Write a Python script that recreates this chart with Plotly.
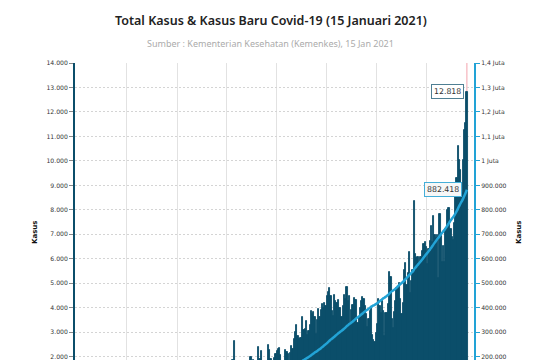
import numpy as np
import pandas as pd
import plotly.graph_objects as go

# Kasus baru harian (Indonesia), 2 Maret 2020 - 15 Januari 2021
kasus_mar = [2, 0, 0, 0, 2, 0, 2, 13, 8, 7, 0, 35, 27, 21, 17, 38, 55, 82, 60, 81,
             64, 65, 106, 105, 103, 153, 109, 130, 129, 114]
kasus_apr = [149, 113, 196, 106, 181, 218, 247, 218, 337, 219, 330, 399, 316, 282, 297,
             380, 407, 325, 327, 185, 375, 283, 357, 436, 396, 275, 214, 415, 260, 347]
kasus_mei = [433, 292, 349, 395, 484, 367, 338, 336, 533, 387, 233, 484, 689, 568, 490, 529,
             489, 496, 486, 693, 973, 634, 949, 526, 479, 415, 686, 687, 678, 700, 557]
kasus_jun = [609, 467, 684, 585, 703, 993, 672, 847, 1043, 1241, 979, 1111, 1014, 857, 1017,
             1106, 1031, 1331, 1041, 1226, 862, 954, 1051, 1113, 1178, 1239, 1385, 1198, 1082, 1293]
kasus_jul = [1385, 1624, 1301, 1447, 1607, 1209, 1268, 1853, 2657, 1611, 1681, 1282, 1591, 1282,
             1522, 1574, 1462, 1752, 1639, 1693, 1655, 1990, 1990, 1761, 1868, 1492, 1525, 1748,
             2381, 1904, 2237]
kasus_agu = [1560, 1519, 1679, 1815, 1815, 2473, 2277, 1893, 1687, 1693, 1942, 2098, 2245, 2307,
             2345, 2081, 1821, 1673, 1700, 2266, 2197, 2090, 1711, 2149, 2447, 2306, 2719, 3003,
             3308, 2858, 2743]
kasus_sep = [2775, 2775, 3622, 3100, 3128, 3444, 2880, 3046, 3307, 3861, 3737, 3806, 3636, 2911,
             3507, 3963, 3635, 3891, 4168, 3989, 4176, 4071, 4465, 4634, 4823, 4494, 3874, 3672,
             4538, 4284]
kasus_okt = [4174, 4317, 4007, 3992, 3622, 4056, 4538, 4369, 4850, 4294, 4497, 3267, 3906, 4127,
             4411, 4301, 4301, 3373, 3602, 4000, 4267, 4432, 4369, 4070, 3761, 3222, 3520, 3853,
             3989, 2897, 2696]
kasus_nov = [2618, 2973, 3356, 4356, 4065, 3778, 4262, 3880, 2853, 3779, 3770, 4173, 5444, 5272,
             3535, 3162, 3807, 4265, 4798, 4792, 4998, 4360, 3726, 4192, 5534, 5828, 4917, 5418,
             6267, 4617]
kasus_des = [5092, 5533, 8369, 6200, 6027, 6089, 5754, 6058, 6058, 6333, 6610, 6688, 6489, 5789,
             6420, 6725, 7354, 6689, 7751, 6982, 6848, 6954, 5224, 7814, 6950, 5854, 6528, 5854,
             7203, 8002, 8074]
kasus_jan = [8072, 7203, 6877, 6753, 7445, 8854, 9321, 10617, 10046, 9640, 8692, 10047, 11278,
             11557, 12818]

kasus_baru = np.array(kasus_mar + kasus_apr + kasus_mei + kasus_jun + kasus_jul + kasus_agu +
                      kasus_sep + kasus_okt + kasus_nov + kasus_des + kasus_jan)
tanggal = pd.date_range("2020-03-02", periods=len(kasus_baru), freq="D")
total_kasus = np.cumsum(kasus_baru)

kanan_vals = [200000, 300000, 400000, 500000, 600000, 700000, 800000, 900000,
              1000000, 1100000, 1200000, 1300000, 1400000]
kanan_text = ["200.000", "300.000", "400.000", "500.000", "600.000", "700.000", "800.000",
              "900.000", "1 Juta", "1,1 Juta", "1,2 Juta", "1,3 Juta", "1,4 Juta"]

DARK = "#0b4e6a"
LIGHT = "#22a3d6"
TICKFONT = dict(family="DejaVu Sans, Verdana, sans-serif", size=6.1, color="#333333")

fig = go.Figure()
fig.add_trace(go.Bar(x=tanggal, y=kasus_baru, name="Kasus Baru", marker_color=DARK,
                     marker_line=dict(color=DARK, width=0.9), yaxis="y"))
fig.add_trace(go.Scatter(x=tanggal, y=total_kasus, name="Total Kasus", mode="lines",
                         line=dict(color=LIGHT, width=2.5, shape="spline"), yaxis="y2"))

base = pd.Timestamp("2020-03-02")
grid_days = [41.40, 82.24, 123.07, 163.90, 204.74, 245.57, 286.40]
grid_vals = [base + pd.Timedelta(days=d) for d in grid_days]

fig.update_layout(
    width=537, height=360, autosize=False,
    margin=dict(l=75, r=63, t=63, b=0, pad=0),
    paper_bgcolor="white", plot_bgcolor="white",
    separators=",.", showlegend=False, bargap=0,
    xaxis=dict(type="date",
               range=[base - pd.Timedelta(days=1.06), base + pd.Timedelta(days=324.8)],
               tickvals=grid_vals, showticklabels=False, ticks="",
               showgrid=True, gridcolor="#e2e2e2", gridwidth=1,
               showline=False, zeroline=False),
    yaxis=dict(range=[1865, 14000], tickvals=list(range(2000, 14001, 1000)),
               tickformat=",d", tickfont=TICKFONT,
               ticks="outside", ticklen=4, tickcolor="#888888", tickwidth=1,
               showgrid=True, gridcolor="#d4d4d4", griddash="2px,2px", gridwidth=1,
               showline=True, linecolor=DARK, linewidth=2, zeroline=False),
    yaxis2=dict(range=[186500, 1400000], overlaying="y", side="right",
                tickvals=kanan_vals, ticktext=kanan_text, tickfont=TICKFONT,
                ticks="outside", ticklen=4, tickcolor=LIGHT, tickwidth=1,
                showgrid=False, showline=True, linecolor=LIGHT, linewidth=2,
                zeroline=False),
)

fig.add_shape(type="line", xref="x", yref="y", x0=tanggal[-1], x1=tanggal[-1],
              y0=kasus_baru[-1], y1=14000, line=dict(color="#f3a3ad", width=1), layer="below")

fig.add_annotation(x=tanggal[-1], y=kasus_baru[-1], xref="x", yref="y",
                   text=f"{kasus_baru[-1]:,}".replace(",", "."), showarrow=False,
                   xanchor="right", yanchor="middle", xshift=-3,
                   font=dict(family="DejaVu Sans, sans-serif", size=7.8, color="#333333"),
                   bgcolor="white", bordercolor="#4f7f93", borderwidth=1, borderpad=2)
fig.add_annotation(x=tanggal[-1], y=total_kasus[-1], xref="x", yref="y2",
                   text=f"{total_kasus[-1]:,}".replace(",", "."), showarrow=False,
                   xanchor="right", yanchor="middle", xshift=-5,
                   font=dict(family="DejaVu Sans, sans-serif", size=7.8, color="#333333"),
                   bgcolor="#f7f7f7", bordercolor="#45aed8", borderwidth=1, borderpad=2)

fig.add_annotation(text="Total Kasus & Kasus Baru Covid-19 (15 Januari 2021)",
                   xref="paper", yref="paper", x=0.49, y=(360 - 21) / 297,
                   xanchor="center", yanchor="middle", showarrow=False,
                   font=dict(family="Noto Sans, sans-serif", size=12.5, color="#222222",
                             weight=600))
fig.add_annotation(text="Sumber : Kementerian Kesehatan (Kemenkes), 15 Jan 2021",
                   xref="paper", yref="paper", x=0.49, y=(360 - 44) / 297,
                   xanchor="center", yanchor="middle", showarrow=False,
                   font=dict(family="Noto Sans, sans-serif", size=9, color="#ababab"))
for xp in [(35 - 75) / 399, (519 - 75) / 399]:
    fig.add_annotation(text="<b>Kasus</b>", xref="paper", yref="paper", x=xp,
                       y=(360 - 233) / 297, textangle=-90, showarrow=False,
                       xanchor="center", yanchor="middle",
                       font=dict(family="DejaVu Sans, sans-serif", size=7, color="#111111"))

fig.write_html("out.html", config={"displayModeBar": False},
               post_script="document.body.style.margin='0px';"
                           "document.body.style.overflow='hidden';")
